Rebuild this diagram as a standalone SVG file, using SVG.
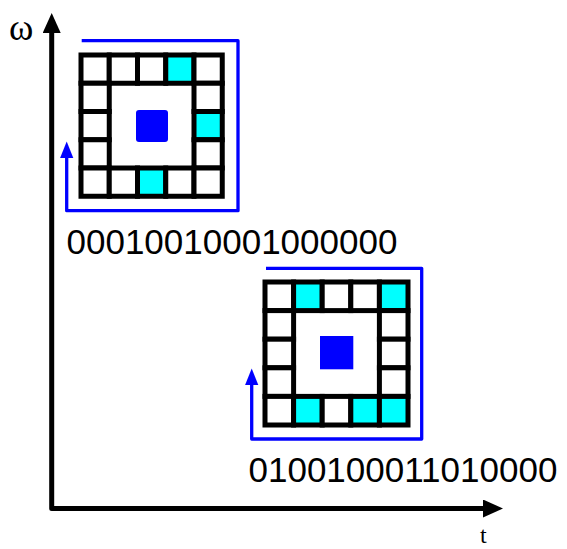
<svg xmlns="http://www.w3.org/2000/svg" width="567" height="549" viewBox="0 0 567 549">
  <style>
    .cell { fill: #ffffff; stroke: #000000; stroke-width: 5; }
    .on { fill: #00ffff; }
    .core { fill: #0000ff; }
    .axis { fill: none; stroke: #000000; stroke-width: 5; stroke-linejoin: round; }
    .scan { fill: none; stroke: #0000ff; stroke-width: 3.3; stroke-linejoin: round; }
    .bits { font-family: "Liberation Sans", Arial, sans-serif; font-size: 35px; fill: #000000; }
    .axlabel { font-family: "Liberation Serif", "Times New Roman", serif; fill: #000000; }
  </style>
  <defs>
    <marker id="axisHead" markerUnits="userSpaceOnUse" markerWidth="21" markerHeight="19" refX="0" refY="9" orient="auto-start-reverse">
      <path d="M0,0 L20,9 L0,18 Z" fill="#000000"/>
    </marker>
    <marker id="scanHead" markerUnits="userSpaceOnUse" markerWidth="17" markerHeight="14" refX="0" refY="6.6" orient="auto">
      <path d="M0,0 L16.5,6.6 L0,13.2 Z" fill="#0000ff"/>
    </marker>
  </defs>

  <rect width="567" height="549" fill="#ffffff"/>

  <!-- time/frequency axes -->
  <g id="axes">
    <path class="axis" d="M51.7,33 L51.7,508.5 L483,508.5" marker-start="url(#axisHead)" marker-end="url(#axisHead)"/>
    <text class="axlabel" x="9" y="39.5" font-size="37">ω</text>
    <text class="axlabel" x="480" y="542.5" font-size="24">t</text>
  </g>

  <!-- first ring pattern -->
  <g id="grid-a">
    <rect class="cell" x="81" y="55" width="28.25" height="28.25"/>
    <rect class="cell" x="109.25" y="55" width="28.25" height="28.25"/>
    <rect class="cell" x="137.5" y="55" width="28.25" height="28.25"/>
    <rect class="cell on" x="165.75" y="55" width="28.25" height="28.25"/>
    <rect class="cell" x="194" y="55" width="28.25" height="28.25"/>
    <rect class="cell" x="81" y="83.25" width="28.25" height="28.25"/>
    <rect class="cell" x="194" y="83.25" width="28.25" height="28.25"/>
    <rect class="cell" x="81" y="111.5" width="28.25" height="28.25"/>
    <rect class="cell on" x="194" y="111.5" width="28.25" height="28.25"/>
    <rect class="cell" x="81" y="139.75" width="28.25" height="28.25"/>
    <rect class="cell" x="194" y="139.75" width="28.25" height="28.25"/>
    <rect class="cell" x="81" y="168" width="28.25" height="28.25"/>
    <rect class="cell" x="109.25" y="168" width="28.25" height="28.25"/>
    <rect class="cell on" x="137.5" y="168" width="28.25" height="28.25"/>
    <rect class="cell" x="165.75" y="168" width="28.25" height="28.25"/>
    <rect class="cell" x="194" y="168" width="28.25" height="28.25"/>
    <rect class="core" x="136" y="110" width="32" height="32" rx="3"/>
  </g>
  <text id="bits-a" class="bits" x="66.5" y="254">00010010001000000</text>

  <!-- second ring pattern -->
  <g id="grid-b">
    <rect class="cell" x="265" y="282" width="28.6" height="28.6"/>
    <rect class="cell on" x="293.6" y="282" width="28.6" height="28.6"/>
    <rect class="cell" x="322.2" y="282" width="28.6" height="28.6"/>
    <rect class="cell" x="350.8" y="282" width="28.6" height="28.6"/>
    <rect class="cell on" x="379.4" y="282" width="28.6" height="28.6"/>
    <rect class="cell" x="265" y="310.6" width="28.6" height="28.6"/>
    <rect class="cell" x="379.4" y="310.6" width="28.6" height="28.6"/>
    <rect class="cell" x="265" y="339.2" width="28.6" height="28.6"/>
    <rect class="cell" x="379.4" y="339.2" width="28.6" height="28.6"/>
    <rect class="cell" x="265" y="367.8" width="28.6" height="28.6"/>
    <rect class="cell" x="379.4" y="367.8" width="28.6" height="28.6"/>
    <rect class="cell" x="265" y="396.4" width="28.6" height="28.6"/>
    <rect class="cell on" x="293.6" y="396.4" width="28.6" height="28.6"/>
    <rect class="cell" x="322.2" y="396.4" width="28.6" height="28.6"/>
    <rect class="cell on" x="350.8" y="396.4" width="28.6" height="28.6"/>
    <rect class="cell on" x="379.4" y="396.4" width="28.6" height="28.6"/>
    <rect class="core" x="320" y="336" width="33.3" height="33.3"/>
  </g>
  <text id="bits-b" class="bits" x="248.5" y="481.5">0100100011010000</text>

  <!-- scan-order arrows around each ring -->
  <g id="connectors">
    <path class="scan" d="M81.7,40.7 H238 V210.7 H66.7 V158" marker-end="url(#scanHead)"/>
    <path class="scan" d="M266,268.3 H421.7 V439 H251.7 V385" marker-end="url(#scanHead)"/>
  </g>
</svg>
